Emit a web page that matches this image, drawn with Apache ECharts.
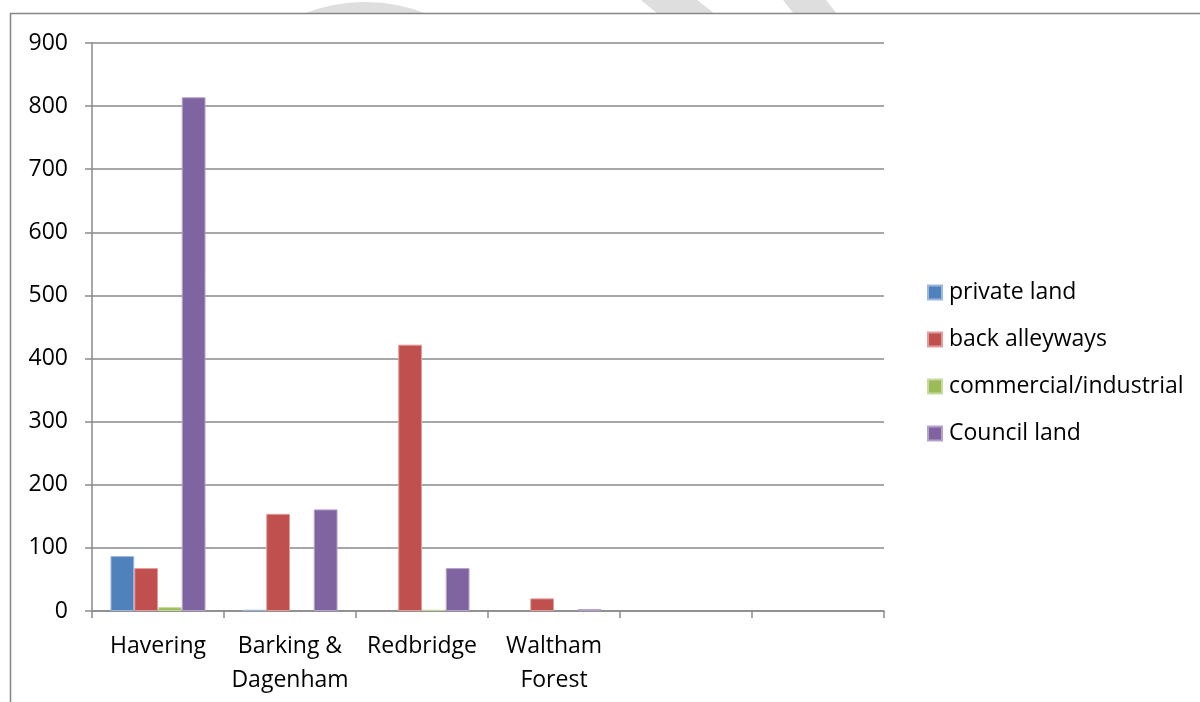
<!DOCTYPE html>
<html>
<head>
<meta charset="utf-8">
<script src="https://cdn.jsdelivr.net/npm/echarts@6/dist/echarts.min.js"></script>
<style>
  html, body { margin: 0; padding: 0; background: #ffffff; }
  #chart { width: 1200px; height: 702px; }
</style>
</head>
<body>
<div id="chart"></div>
<script>
// Boroughs (the last two slots are empty on the axis)
var categories = ['Havering', 'Barking &\nDagenham', 'Redbridge', 'Waltham\nForest', '', ''];

// Reports by land type
var privateLand = [87, 2, 0, 0, null, null];
var backAlleyways = [68, 154, 422, 20, null, null];
var commercialIndustrial = [6, 0, 2, 0, null, null];
var councilLand = [814, 161, 68, 3, null, null];

var seriesNames = ['private land', 'back alleyways', 'commercial/industrial', 'Council land'];
var seriesData = [privateLand, backAlleyways, commercialIndustrial, councilLand];
var fillColors = ['#4F81BD', '#C0504D', '#9BBB59', '#8064A2'];
var edgeColors = ['#9DB8DC', '#E29C9A', '#C6DA9C', '#B3A2C9'];

var FONT = '"Open Sans", "Noto Sans", sans-serif';
var FONT_SIZE = 23;
var GRID_COLOR = '#8a8a8a';

var chart = echarts.init(document.getElementById('chart'), null, { renderer: 'canvas' });

var series = seriesData.map(function (d, i) {
  return {
    name: seriesNames[i],
    type: 'bar',
    // zero-height bars get no outline so they stay invisible
    data: d.map(function (v) {
      return v === 0 ? { value: 0, itemStyle: { borderWidth: 0 } } : v;
    }),
    barGap: '0%',
    barCategoryGap: '28%',
    itemStyle: { color: fillColors[i], borderColor: edgeColors[i], borderWidth: 1 },
    emphasis: { disabled: true }
  };
});

chart.setOption({
  animation: false,
  backgroundColor: '#ffffff',
  textStyle: { fontFamily: FONT },
  graphic: [
    // faint background mark above the chart frame
    { type: 'circle', z: -10, shape: { cx: 365, cy: 171, r: 169 }, style: { fill: '#dedede' } },
    { type: 'polygon', z: -10, shape: { points: [[641, 0], [697, 0], [715, 14], [658, 14]] }, style: { fill: '#dedede' } },
    { type: 'polygon', z: -10, shape: { points: [[783, 0], [826, 0], [837, 14], [794, 14]] }, style: { fill: '#dedede' } },
    // chart frame
    { type: 'rect', z: -5, shape: { x: 10.5, y: 13.5, width: 1400, height: 900 },
      style: { fill: '#ffffff', stroke: '#868686', lineWidth: 1.5 } }
  ],
  legend: {
    orient: 'vertical',
    left: 922,
    top: 276,
    itemWidth: 14,
    itemHeight: 14,
    itemGap: 24,
    icon: 'rect',
    selectedMode: false,
    data: seriesNames,
    textStyle: { fontFamily: FONT, fontSize: FONT_SIZE, lineHeight: 20, color: '#000000', padding: [0, 0, 0, 2] }
  },
  grid: { left: 92, right: 316, top: 43, bottom: 91, containLabel: false },
  xAxis: {
    type: 'category',
    data: categories,
    axisLine: { show: true, lineStyle: { color: GRID_COLOR, width: 1.5 } },
    axisTick: { show: true, length: 7, lineStyle: { color: GRID_COLOR, width: 1.5 } },
    axisLabel: { fontFamily: FONT, fontSize: FONT_SIZE, color: '#000000', margin: 18, lineHeight: 34, interval: 0 }
  },
  yAxis: {
    type: 'value',
    min: 0,
    max: 900,
    interval: 100,
    axisLine: { show: true, lineStyle: { color: GRID_COLOR, width: 1.5 } },
    axisTick: { show: true, length: 7, lineStyle: { color: GRID_COLOR, width: 1.5 } },
    splitLine: { show: true, lineStyle: { color: GRID_COLOR, width: 1.5 } },
    axisLabel: { fontFamily: FONT, fontSize: FONT_SIZE, color: '#000000', margin: 24 }
  },
  series: series
});
</script>
</body>
</html>
